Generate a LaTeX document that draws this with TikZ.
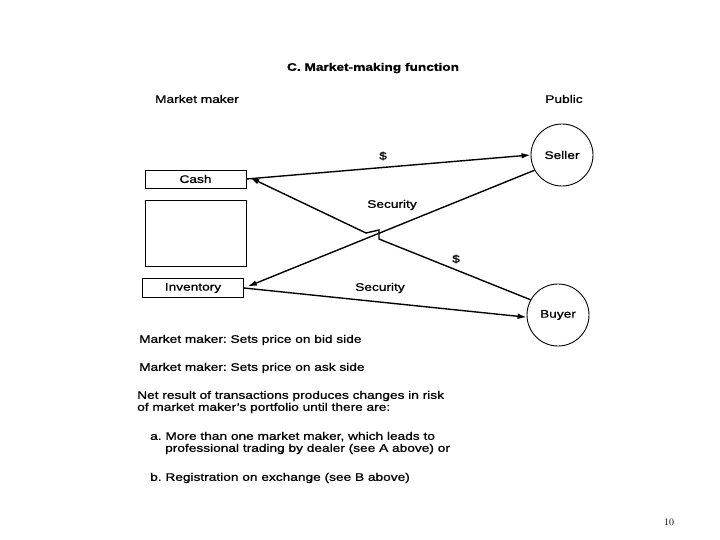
\documentclass[tikz,border=0pt]{standalone}
\usepackage{fontspec}
\setsansfont[FakeStretch=1.25, FakeBold=1]{Liberation Sans}
\usepackage{tikz}
\usetikzlibrary{positioning, arrows.meta}
\frenchspacing

\begin{document}
\begin{tikzpicture}[
      x=1bp, y=-1bp,
      every node/.style={font=\sffamily\fontsize{11}{12}\selectfont},
      acct/.style={draw, line width=1pt, inner sep=0pt, minimum width=101bp, minimum height=18bp},
      party/.style={draw, circle, line width=0.9pt, minimum size=62bp, inner sep=0pt},
      lbl/.style={inner sep=1pt},
      txt/.style={anchor=west, inner sep=0pt, align=left},
      arr/.style={line width=1.4pt, -{Latex[length=3.2mm, width=2mm]}}
    ]
    \useasboundingbox (0,0) rectangle (720,540);

    % headings
    \node[font=\sffamily\bfseries\fontsize{11}{12}\selectfont] (title) at (373,68) {C. Market-making function};
    \node (mm) at (197,99) {Market maker};
    \node (pub) at (564,99) {Public};

    % market maker's accounts
    \node[acct] (cash) at (195.5,179) {Cash};
    \node[acct, minimum height=66bp] (blank) at (195.5,233) {};
    \node[acct, minimum height=19bp] (inv) at (193,288) {Inventory};

    % public
    \node[party] (seller) at (562,155) {Seller};
    \node[party] (buyer) at (558,315) {Buyer};

    % crossing with a hop
    \coordinate (hopa) at (379,239);
    \coordinate (hopb) at (379,230);
    \coordinate (hopc) at (366,233);

    \draw[arr] (cash.east) -- (seller.west);
    \draw[arr, shorten >=4bp] (seller.209) -- (inv.east);
    \draw[arr, shorten >=4bp] (buyer.151) -- (hopa) -- (hopb) -- (hopc) -- ([yshift=3bp]cash.east);
    \draw[arr] (inv.east) -- (buyer.184);

    \node[lbl] (pay1) at (383,156) {\$};
    \node[lbl] (sec1) at (392,205) {Security};
    \node[lbl] (pay2) at (456,259) {\$};
    \node[lbl] (sec2) at (380,288) {Security};

    % notes
    \node[txt] (bid) at (139,340) {Market maker: Sets price on bid side};
    \node[txt] (ask) at (139,368) {Market maker: Sets price on ask side};
    \node[txt] (net) at (137,402) {Net result of transactions produces changes in risk\\of market maker's portfolio until there are:};
    \node[txt] (itema) at (150,443) {a. More than one market maker, which leads to\\\hspace{15bp}professional trading by dealer (see A above) or};
    \node[txt] (itemb) at (150,478) {b. Registration on exchange (see B above)};

    \node[font=\rmfamily\fontsize{10}{12}\selectfont] (page) at (669,522) {10};
  \end{tikzpicture}
\end{document}
